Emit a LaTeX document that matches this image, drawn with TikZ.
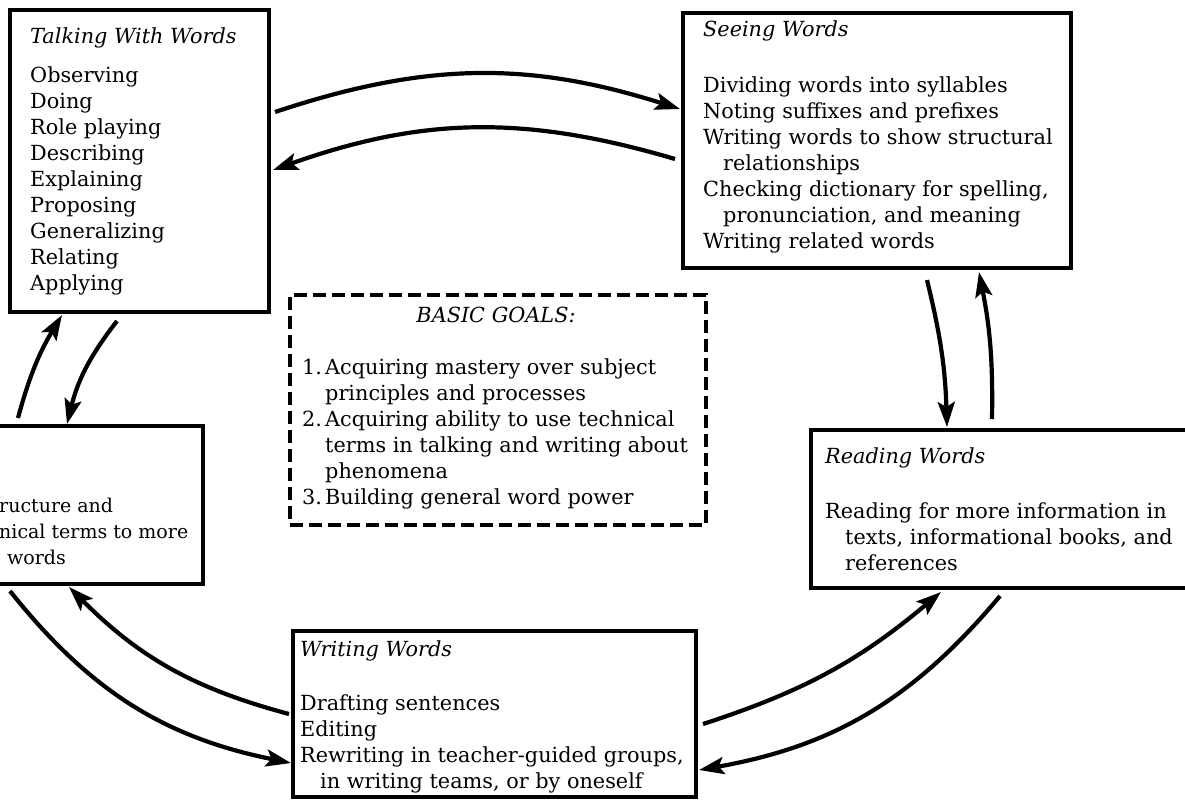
\documentclass[tikz,border=0pt]{standalone}
\usepackage{fontspec}
\setmainfont{DejaVu Serif}
\usetikzlibrary{arrows.meta, calc}
\tikzset{
  every node/.style={font=\fontsize{20.8pt}{26pt}\selectfont},
  box/.style={draw, line width=4pt, inner sep=0pt, anchor=north west},
  goalbox/.style={box, dash pattern=on 13pt off 6pt},
  txt/.style={align=left, anchor=base west, inner sep=0pt},
  flow/.style={line width=4.2pt, -{Stealth[length=25pt, width=17pt, inset=5pt]}},
}
\newcommand{\boxtitle}[1]{\textit{#1}}
\newcommand{\contline}{\hspace*{23pt}}
\newcommand{\goalnum}[1]{\makebox[23pt][l]{#1}}

\begin{document}
\begin{tikzpicture}[x=1pt, y=-1pt]
  \useasboundingbox (0,0) rectangle (1185,804);
  \clip (0,0) rectangle (1185,804);

  % ---- the five boxes round the goals ---------------------------------------
  \node[box, minimum width=259, minimum height=302] (talk) at (8,8) {};
  \node[box, minimum width=388, minimum height=255] (see) at (681,11) {};
  \node[box, minimum width=501, minimum height=158] (use) at (-300,424) {};
  \node[box, minimum width=491, minimum height=158] (read) at (809,428) {};
  \node[box, minimum width=403, minimum height=166] (writ) at (291,629) {};
  \node[goalbox, minimum width=416, minimum height=230] (goals) at (288,293) {};

  % ---- box texts (placed by the baseline of their last line) ----------------
  \node[txt] (talktxt) at (30,290) {\boxtitle{Talking With Words}\\[13pt]
    Observing\\Doing\\Role playing\\Describing\\Explaining\\Proposing\\
    Generalizing\\Relating\\Applying};
  \node[txt] (seetxt) at (703,248) {\boxtitle{Seeing Words}\\[30pt]
    Dividing words into syllables\\
    Noting suffixes and prefixes\\
    Writing words to show structural\\
    \hspace*{20pt}relationships\\
    Checking dictionary for spelling,\\
    \hspace*{20pt}pronunciation, and meaning\\
    Writing related words};
  \node[txt, font=\fontsize{19pt}{26pt}\selectfont] (usetxt) at (-1,564)
    {ructure and\\nical terms to more\\\hspace*{8pt}words};
  \node[txt] (readtxt) at (825,570) {\boxtitle{Reading Words}\\[29pt]
    Reading for more information in\\
    \hspace*{20pt}texts, informational books, and\\
    \hspace*{20pt}references};
  \node[txt] (writtxt) at (300,788) {\boxtitle{Writing Words}\\[28pt]
    Drafting sentences\\
    Editing\\
    Rewriting in teacher-guided groups,\\
    \hspace*{20pt}in writing teams, or by oneself};

  % ---- basic goals -----------------------------------------------------------
  \node[anchor=base, inner sep=0pt] (goalhead) at (496,322) {\boxtitle{BASIC GOALS:}};
  \node[txt] (goaltxt) at (302,504) {\goalnum{1.}Acquiring mastery over subject\\
    \contline principles and processes\\
    \goalnum{2.}Acquiring ability to use technical\\
    \contline terms in talking and writing about\\
    \contline phenomena\\
    \goalnum{3.}Building general word power};

  % ---- arrows between the boxes ----------------------------------------------
  \draw[flow] ($(talk.north east)+(4,104)$) to[bend left=18] ($(see.north west)+(-1,98)$);
  \draw[flow] ($(see.north west)+(-6,148)$) to[bend right=18] ($(talk.north east)+(2,162)$);
  \draw[flow] ($(use.north east)+(-187,-6)$) to[bend left=8] ($(talk.south west)+(54,1)$);
  \draw[flow] ($(talk.south west)+(109,7)$) to[bend right=12] ($(use.north east)+(-138,0)$);
  \draw[flow] ($(writ.north west)+(-2,85)$) to[bend left=15] ($(use.south east)+(-136,1)$);
  \draw[flow] ($(use.south east)+(-195,5)$) to[bend right=20] ($(writ.north west)+(0,134)$);
  \draw[flow] ($(writ.north east)+(5,95)$) to[bend right=11] ($(read.south west)+(132,2)$);
  \draw[flow] ($(read.south west)+(191,6)$) to[bend left=20] ($(writ.north east)+(1,141)$);
  \draw[flow] ($(see.south east)+(-146,10)$) to[bend left=6] ($(read.north west)+(138,-1)$);
  \draw[flow] ($(read.north west)+(183,-9)$) to[bend right=6] ($(see.south east)+(-94,2)$);
\end{tikzpicture}
\end{document}
